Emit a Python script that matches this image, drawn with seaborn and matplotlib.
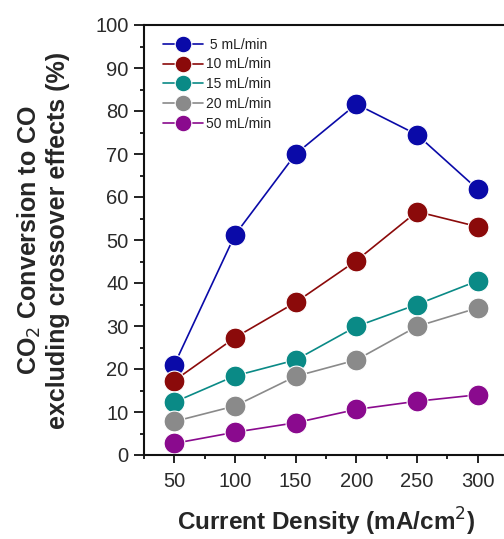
import numpy as np
import pandas as pd
import seaborn as sns
from matplotlib import pyplot as plt
from matplotlib.ticker import MultipleLocator

sns.set_style("ticks")
plt.rcParams['font.family'] = ['Liberation Sans', 'DejaVu Sans']

current = [50, 100, 150, 200, 250, 300]
flows = [' 5 mL/min', '10 mL/min', '15 mL/min', '20 mL/min', '50 mL/min']
conv_5 = [21.0, 51.2, 70.0, 81.6, 74.5, 61.8]
conv_10 = [17.3, 27.3, 35.5, 45.2, 56.6, 53.1]
conv_15 = [12.3, 18.4, 22.1, 29.9, 35.0, 40.5]
conv_20 = [7.8, 11.4, 18.3, 22.1, 29.9, 34.2]
conv_50 = [2.7, 5.3, 7.5, 10.6, 12.5, 14.0]
colors = ['#0a0aa8', '#8b0a0a', '#0a8a86', '#8a8a8a', '#8a0a8e']

rows = []
for flow, vals in zip(flows, [conv_5, conv_10, conv_15, conv_20, conv_50]):
    for c, v in zip(current, vals):
        rows.append({'current': c, 'conv': v, 'flow': flow})
data = pd.DataFrame(rows)

fig = plt.figure(figsize=(5.04, 5.39), dpi=100)
ax = fig.add_axes([144 / 504, 1 - 455 / 539, (508 - 144) / 504, (455 - 25) / 539])

sns.lineplot(x='current', y='conv', hue='flow', data=data, ax=ax, palette=colors,
             marker='o', markersize=15, markeredgewidth=0.8, lw=1.2, legend=True)

ax.set_xlim(25, 325)
ax.set_ylim(0, 100)
ax.xaxis.set_major_locator(MultipleLocator(50))
ax.xaxis.set_minor_locator(MultipleLocator(25))
ax.yaxis.set_major_locator(MultipleLocator(10))
ax.yaxis.set_minor_locator(MultipleLocator(5))
ax.tick_params(which='both', direction='out', width=1.3, colors='#111111',
               labelsize=14.5, labelcolor='#2a2a2a')
ax.tick_params(axis='y', which='major', length=7, pad=4)
ax.tick_params(axis='x', which='major', length=6, pad=6)
ax.tick_params(which='minor', length=3)
for s in ax.spines.values():
    s.set_visible(True)
    s.set_linewidth(1.5)
    s.set_color('#111111')

ax.set_xlabel('Current Density (mA/cm$^2$)', fontsize=17.5, fontweight='bold', va='center')
ax.xaxis.set_label_coords(0.5, -0.155)
ax.set_ylabel('CO$_2$ Conversion to CO\nexcluding crossover effects (%)', fontsize=18,
              fontweight='bold', va='center', linespacing=1.15)
ax.yaxis.set_label_coords(-0.278, 0.5)

handles, labels = ax.get_legend_handles_labels()
leg = ax.legend(handles, labels, loc='upper left', bbox_to_anchor=(0.028, 0.99), frameon=False,
                fontsize=10, handlelength=2.9, handletextpad=0.2, labelspacing=0.42,
                borderaxespad=0.2)
for h in leg.legend_handles:
    h.set_markersize(12)
for t in leg.get_texts():
    t.set_color('#222222')

fig.savefig('out.png', dpi=100)
